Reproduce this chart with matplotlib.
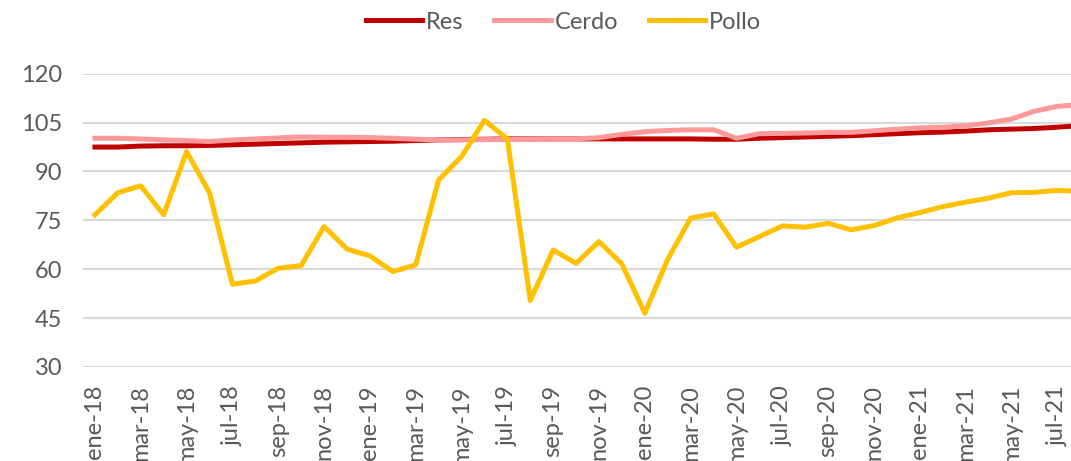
import matplotlib
matplotlib.use('Agg')
import matplotlib.pyplot as plt

# monthly series, ene-18 .. ago-21
meses = ['ene', 'feb', 'mar', 'abr', 'may', 'jun', 'jul', 'ago', 'sep', 'oct', 'nov', 'dic']
labels = []
for y in ['18', '19', '20', '21']:
    for mm in meses:
        labels.append(mm + '-' + y)
labels = labels[:44]

res = [97.5, 97.5, 97.8, 97.9, 97.9, 98.0, 98.2, 98.4, 98.6, 98.8, 99.0, 99.1,
       99.2, 99.3, 99.5, 99.7, 99.8, 99.9, 100.0, 100.0, 100.0, 100.0, 100.0, 100.0,
       100.0, 100.0, 100.0, 99.9, 99.9, 100.2, 100.4, 100.6, 100.8, 101.0, 101.3, 101.6,
       101.9, 102.1, 102.4, 102.8, 103.0, 103.2, 103.6, 104.1]
cerdo = [100.2, 100.2, 100.0, 99.7, 99.5, 99.2, 99.7, 100.0, 100.3, 100.6, 100.5, 100.5,
         100.4, 100.2, 99.9, 99.7, 99.7, 99.8, 99.8, 99.9, 100.0, 100.0, 100.4, 101.4,
         102.2, 102.6, 102.8, 102.8, 100.2, 101.6, 101.7, 101.8, 102.0, 102.0, 102.5, 103.0,
         103.4, 103.6, 104.0, 104.9, 106.1, 108.5, 110.0, 110.5]
pollo = [76.7, 83.5, 85.6, 76.7, 96.1, 83.5, 55.4, 56.4, 60.3, 61.1, 73.1, 66.2,
         64.1, 59.3, 61.3, 87.4, 94.6, 105.7, 100.0, 50.4, 65.9, 61.8, 68.5, 61.6,
         46.5, 63.1, 75.7, 77.0, 66.8, 70.0, 73.3, 72.9, 74.1, 72.1, 73.4, 75.7,
         77.4, 79.2, 80.6, 81.8, 83.5, 83.6, 84.2, 83.9]

plt.rcParams['font.family'] = ['Lato', 'DejaVu Sans']
gris = '#595959'

fig = plt.figure(figsize=(10.71, 4.61), dpi=100)
ax = fig.add_axes([0.0775, 0.204, 0.9225, 0.636])

x = list(range(len(labels)))
ax.plot(x, res, color='#C00000', lw=3.6, label='Res')
ax.plot(x, cerdo, color='#FF9999', lw=3.6, label='Cerdo')
ax.plot(x, pollo, color='#FFC000', lw=3.6, label='Pollo')

ax.set_ylim(30, 120)
ax.set_yticks([30, 45, 60, 75, 90, 105, 120])
ax.set_xlim(-0.52, 42.6)
ax.set_xticks(x[::2])
ax.set_xticklabels(labels[::2], rotation=90)
ax.grid(axis='y', color='#d9d9d9', lw=1.5)
ax.set_axisbelow(True)
for s in ax.spines.values():
    s.set_visible(False)
ax.tick_params(axis='y', length=0, labelsize=17, labelcolor=gris, pad=15)
ax.tick_params(axis='x', length=0, labelsize=17, labelcolor=gris, pad=13)

fig.legend(loc='center', bbox_to_anchor=(0.526, 0.952), ncol=3, frameon=False,
           fontsize=17, labelcolor=gris, handlelength=2.4, handletextpad=0.15,
           columnspacing=1.3, borderpad=0)

fig.savefig('out.png', dpi=100)
